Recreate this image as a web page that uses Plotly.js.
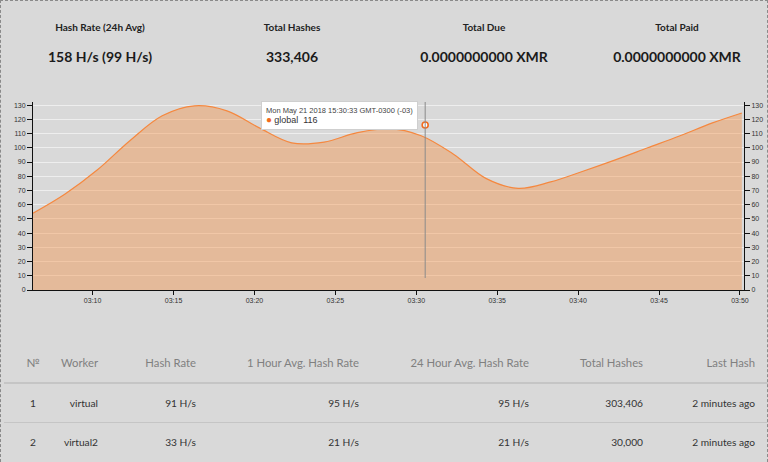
<!DOCTYPE html>
<html><head><meta charset="utf-8">
<script src="https://cdn.plot.ly/plotly-3.0.1.min.js"></script>
<style>
html,body{margin:0;padding:0;background:#d9d9d9;width:768px;height:462px;overflow:hidden;font-family:Lato,'Noto Sans',sans-serif;}
#frame{position:absolute;left:0;top:0;width:766px;height:470px;border:1px dashed #8a8a8a;}
.stat{position:absolute;width:200px;text-align:center;white-space:nowrap;}
.st{top:21px;font-size:10px;font-weight:bold;color:#222;}
.sv{top:48px;font-size:14px;font-weight:bold;color:#1b1b1b;}
#chart{position:absolute;left:0;top:0;width:768px;height:320px;}
.th,.td{position:absolute;white-space:nowrap;line-height:16px;}
.th{color:#808080;font-size:11.3px;}
.td{color:#333;font-size:10.2px;}
.hr{position:absolute;left:4px;width:764px;}
</style></head>
<body>
<div id="frame"></div>
<div id="stats"></div>
<div id="chart"></div>
<div id="table"></div>
<script>
// ---- summary stats ----
const statLabels = ['Hash Rate (24h Avg)', 'Total Hashes', 'Total Due', 'Total Paid'];
const statValues = ['158 H/s (99 H/s)', '333,406', '0.0000000000 XMR', '0.0000000000 XMR'];

// ---- hash-rate series (global) ----
const times = [
  '2018-05-21 15:06:19','2018-05-21 15:08:18','2018-05-21 15:10:18','2018-05-21 15:12:18',
  '2018-05-21 15:14:18','2018-05-21 15:16:18','2018-05-21 15:18:18','2018-05-21 15:20:18',
  '2018-05-21 15:22:18','2018-05-21 15:24:18','2018-05-21 15:26:18','2018-05-21 15:28:18',
  '2018-05-21 15:30:18','2018-05-21 15:32:18','2018-05-21 15:34:18','2018-05-21 15:36:18',
  '2018-05-21 15:38:18','2018-05-21 15:40:18','2018-05-21 15:42:18','2018-05-21 15:44:18',
  '2018-05-21 15:46:18','2018-05-21 15:48:18','2018-05-21 15:50:07'
];
const hashRate = [
  54, 67.5, 84.5, 105,
  122.5, 129.5, 126, 114,
  103.5, 104, 110.5, 113.5,
  108.5, 95.5, 78.5, 71.5,
  76, 83.5, 91.5, 100,
  108.5, 117.5, 124.5
];
const seriesName = 'global';
const hoverTime = '2018-05-21 15:30:33';
const hoverValue = 116;
const hoverLabel = 'Mon May 21 2018 15:30:33 GMT-0300 (-03)';
const xRange = ['2018-05-21 15:06:19', '2018-05-21 15:50:15'];
const yRange = [0, 132.2];

// ---- workers table ----
const tableHeaders = ['№', 'Worker', 'Hash Rate', '1 Hour Avg. Hash Rate', '24 Hour Avg. Hash Rate', 'Total Hashes', 'Last Hash'];
const rowNums = ['1', '2'];
const workers = ['virtual', 'virtual2'];
const hashRates = ['91 H/s', '33 H/s'];
const avg1h = ['95 H/s', '21 H/s'];
const avg24h = ['95 H/s', '21 H/s'];
const totalHashes = ['303,406', '30,000'];
const lastHash = ['2 minutes ago', '2 minutes ago'];

// ---- render stats ----
const statCenters = [100, 292, 484, 677];
let sh = '';
statLabels.forEach((l, i) => {
  sh += `<div class="stat st" style="left:${statCenters[i]-100}px">${l}</div>`;
  sh += `<div class="stat sv" style="left:${statCenters[i]-100}px">${statValues[i]}</div>`;
});
document.getElementById('stats').innerHTML = sh;

// ---- render table ----
const colRight = [null, 98, 196, 359, 529, 643, 755];
const rowsCenters = [403, 442];
const columns = [rowNums, workers, hashRates, avg1h, avg24h, totalHashes, lastHash];
let th = '';
tableHeaders.forEach((h, i) => {
  const pos = i === 0 ? `left:13px;width:40px;text-align:center` : `right:${768-colRight[i]}px;text-align:right`;
  th += `<div class="th" style="top:${363-8}px;${pos}">${h}</div>`;
});
columns.forEach((col, i) => {
  col.forEach((v, r) => {
    const pos = i === 0 ? `left:13px;width:40px;text-align:center` : `right:${768-colRight[i]}px;text-align:right`;
    th += `<div class="td" style="top:${rowsCenters[r]-8}px;${pos}">${v}</div>`;
  });
});
th += `<div class="hr" style="top:382px;height:2px;background:#c5c5c5"></div>`;
th += `<div class="hr" style="top:422px;height:1px;background:#c5c5c5"></div>`;
document.getElementById('table').innerHTML = th;

// ---- chart ----
const lineColor = '#f5883f';
const tickFont = {family: 'Liberation Sans, Arial, sans-serif', size: 7, color: '#333'};
const traces = [
  {x: times, y: hashRate, type: 'scatter', mode: 'lines', name: seriesName,
   line: {color: lineColor, width: 1.2, shape: 'spline', smoothing: 1},
   fill: 'tozeroy', fillcolor: 'rgba(245,140,60,0.4)', hoverinfo: 'skip'},
  {x: times, y: hashRate, type: 'scatter', mode: 'lines', yaxis: 'y2', opacity: 0,
   showlegend: false, hoverinfo: 'skip', line: {width: 0}},
  {x: [hoverTime], y: [hoverValue], type: 'scatter', mode: 'markers', hoverinfo: 'skip',
   marker: {size: 6, color: '#ffffff', line: {color: '#f26b1d', width: 1.6}}}
];
const yCommon = {
  range: yRange, dtick: 10, tick0: 0, ticks: 'outside', ticklen: 5, tickwidth: 1,
  tickcolor: '#111', showline: true, linecolor: '#111', linewidth: 1,
  tickfont: tickFont, zeroline: false, fixedrange: true
};
const layout = {
  width: 768, height: 320,
  margin: {l: 33, r: 24, t: 102, b: 30, pad: 0},
  paper_bgcolor: 'rgba(0,0,0,0)', plot_bgcolor: 'rgba(0,0,0,0)',
  showlegend: false, hovermode: false,
  xaxis: {
    type: 'date', range: xRange, tickformat: '%I:%M', dtick: 300000,
    tick0: '2018-05-21 15:00:00', ticks: 'outside', ticklen: 4, tickcolor: '#111',
    showline: true, linecolor: '#111', linewidth: 1, showgrid: false, zeroline: false,
    tickfont: tickFont
  },
  yaxis: Object.assign({}, yCommon, {side: 'left', showgrid: true, gridcolor: '#eeeeee', gridwidth: 1}),
  yaxis2: Object.assign({}, yCommon, {side: 'right', overlaying: 'y', showgrid: false}),
  shapes: [
    {type: 'line', xref: 'x', yref: 'paper', x0: hoverTime, x1: hoverTime, y0: 0.064, y1: 1,
     line: {color: '#8a8a8a', width: 1}}
  ],
  annotations: [
    {xref: 'x', yref: 'paper', x: hoverTime, y: 1, xanchor: 'right', yanchor: 'top',
     xshift: -7, yshift: 1, showarrow: false, align: 'left',
     bgcolor: '#ffffff', bordercolor: '#cfcfcf', borderwidth: 1, borderpad: 4,
     font: {family: 'Liberation Sans, Arial, sans-serif', size: 7.5, color: '#444'},
     text: hoverLabel + '<br><span style="font-size:10px;color:#f26b1d">●</span> <span style="font-size:9px;color:#333">' + seriesName + '  ' + hoverValue + '</span>'}
  ]
};
Plotly.newPlot('chart', traces, layout, {staticPlot: true, displayModeBar: false});
</script>
</body></html>
